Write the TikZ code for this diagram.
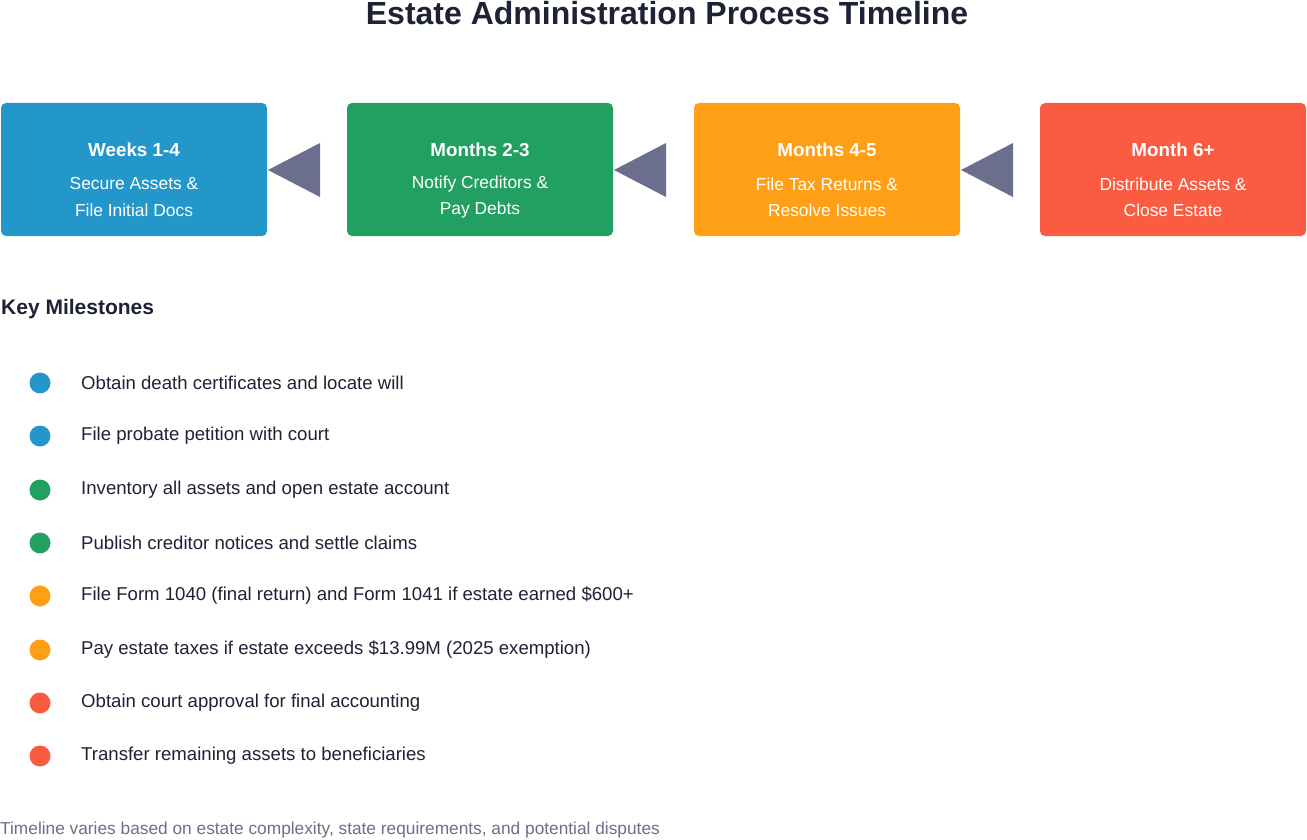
\documentclass[tikz,border=0pt]{standalone}
\usepackage{fontspec}
\setmainfont{Liberation Sans}
\begin{document}
\definecolor{cb}{HTML}{2497CA}
\definecolor{cg}{HTML}{22A062}
\definecolor{co}{HTML}{FF9F15}
\definecolor{cr}{HTML}{F95C40}
\definecolor{tri}{HTML}{6B6E8C}
\definecolor{ink}{HTML}{1E2235}
\definecolor{foot}{HTML}{6B6E8C}
\begin{tikzpicture}[x=1pt,y=-1pt,
  box/.style={rounded corners=5pt,minimum width=266pt,minimum height=133pt,text=white,align=center,inner sep=0pt},
  arr/.style={fill=tri,draw=none},
  dot/.style={circle,minimum size=21pt,inner sep=0pt},
  item/.style={anchor=west,text=ink,font=\fontsize{18.6}{22}\selectfont,inner sep=0pt}]
\useasboundingbox (0,0) rectangle (1307,840);
\node[text=ink,font=\fontsize{32}{38}\bfseries] (title) at (667,13) {Estate Administration Process Timeline};
\foreach \n/\x/\c/\t/\a/\b in {b1/134/cb/Weeks 1-4/Secure Assets \&/File Initial Docs,
  b2/480/cg/Months 2-3/Notify Creditors \&/Pay Debts,
  b3/827/co/Months 4-5/File Tax Returns \&/Resolve Issues,
  b4/1173/cr/Month 6+/Distribute Assets \&/Close Estate}{
  \node[box,fill=\c] (\n) at (\x,169.5) {};
  \node[text=white,font=\fontsize{18.8}{22}\bfseries] (\n t) at (\x,150) {\t};
  \node[text=white,font=\fontsize{17.4}{21}\selectfont] (\n a) at (\x,184) {\a};
  \node[text=white,font=\fontsize{17.4}{21}\selectfont] (\n b) at (\x,210) {\b};
}
\foreach \x in {268,614,961}{
  \fill[arr] (\x,170) -- (\x+52,143) -- (\x+52,197) -- cycle;
}
\node[anchor=west,text=ink,font=\fontsize{21}{25}\bfseries,inner sep=0pt] (km) at (1,309) {Key Milestones};
\foreach \i/\y/\c/\t in {1/383/cb/Obtain death certificates and locate will,
  2/436/cb/File probate petition with court,
  3/490/cg/Inventory all assets and open estate account,
  4/543/cg/Publish creditor notices and settle claims,
  5/596/co/File Form 1040 (final return) and Form 1041 if estate earned \$600+,
  6/650/co/Pay estate taxes if estate exceeds \$13.99M (2025 exemption),
  7/703/cr/Obtain court approval for final accounting,
  8/756/cr/Transfer remaining assets to beneficiaries}{
  \node[dot,fill=\c] (d\i) at (40,\y) {};
  \node[item] (m\i) at (81,\y) {\t};
}
\node[anchor=west,text=foot,font=\fontsize{17.3}{20}\selectfont,inner sep=0pt] (ft) at (0,830) {Timeline varies based on estate complexity, state requirements, and potential disputes};
\end{tikzpicture}
\end{document}
